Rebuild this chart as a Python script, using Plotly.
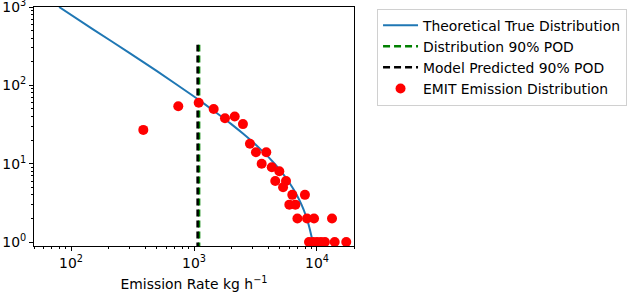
import plotly.graph_objects as go

# Theoretical true distribution
true_x = [80, 150, 300, 500, 1000, 1500, 2000, 2500, 3000, 3500, 4000, 4500,
          5000, 5500, 6000, 6500, 7000, 7500, 8000, 8500, 9000, 9200, 9350]
true_y = [1000, 523, 258, 152, 72, 45.4, 32.2, 24.2, 18.9, 15.1, 12.3, 10.05,
          8.28, 6.83, 5.63, 4.61, 3.73, 2.97, 2.31, 1.72, 1.20, 1.01, 0.87]

# 90% POD vertical lines
pod_dist_x = 1100
pod_model_x = 1070
pod_y = [0.8, 330]

# EMIT emission distribution (scatter)
emit_x = [387, 745, 1092, 1445, 1786, 2143, 2500, 2850, 3190, 3550, 3870, 4290,
          4580, 4940, 5300, 5600, 5960, 6300, 6670, 6930, 7980, 8300, 9460, 13250,
          8610, 9290, 10000, 10770, 11600, 13930, 17300]
emit_y = [27, 54, 60, 50, 38, 40, 32, 18, 14, 10, 14, 9,
          6, 8, 5, 6, 3, 4, 3, 2, 4, 2, 2, 2,
          1, 1, 1, 1, 1, 1, 1]

x_major = [100, 1000, 10000]
x_major_text = ["10<sup>2</sup>", "10<sup>3</sup>", "10<sup>4</sup>"]
y_major = [1, 10, 100, 1000]
y_major_text = ["10<sup>0</sup>", "10<sup>1</sup>", "10<sup>2</sup>", "10<sup>3</sup>"]

x_minor = [m * 10 ** e for e in (1, 2, 3, 4) for m in range(2, 10) if 50 <= m * 10 ** e <= 20000]
y_minor = [m * 10 ** e for e in (0, 1, 2) for m in range(2, 10)]

FONT = "DejaVu Sans"
FS = 13.9

fig = go.Figure()
fig.add_trace(go.Scatter(x=true_x, y=true_y, mode="lines", name="Theoretical True Distribution",
                         line=dict(color="#1f77b4", width=2, shape="spline", smoothing=0.5)))
fig.add_trace(go.Scatter(x=[pod_dist_x, pod_dist_x], y=pod_y, mode="lines", name="Distribution 90% POD",
                         line=dict(color="#008000", width=2.5, dash="7px,4px")))
fig.add_trace(go.Scatter(x=[pod_model_x, pod_model_x], y=pod_y, mode="lines", name="Model Predicted 90% POD",
                         line=dict(color="black", width=2.5, dash="7px,4px")))
fig.add_trace(go.Scatter(x=emit_x, y=emit_y, mode="markers", name="EMIT Emission Distribution",
                         marker=dict(color="#ff0000", size=10, line=dict(width=0))))

axis_common = dict(type="log", showgrid=False, zeroline=False, showline=True, mirror=True,
                   linecolor="black", linewidth=1, ticks="outside", ticklen=4, tickwidth=1,
                   tickcolor="black", automargin=False, ticklabeloverflow="allow",
                   tickfont=dict(family=FONT, size=FS, color="black"))

fig.update_xaxes(**axis_common, range=[1.699, 4.301], tickmode="array", tickvals=x_major,
                 ticktext=x_major_text,
                 minor=dict(tickmode="array", tickvals=x_minor, ticks="outside", ticklen=2,
                            tickwidth=0.8, tickcolor="black"),
                 title=dict(text="Emission Rate kg h<sup>\u22121</sup>",
                            font=dict(family=FONT, size=FS, color="black")))
fig.update_yaxes(**axis_common, range=[-0.051, 3], tickmode="array", tickvals=y_major,
                 ticktext=y_major_text,
                 minor=dict(tickmode="array", tickvals=y_minor, ticks="outside", ticklen=2,
                            tickwidth=0.8, tickcolor="black"))

fig.update_layout(
    width=632, height=292,
    margin=dict(l=34, r=278, t=7, b=46, autoexpand=False),
    paper_bgcolor="white", plot_bgcolor="white",
    font=dict(family=FONT, size=FS, color="black"),
    showlegend=True,
    legend=dict(x=1.072, y=0.993, xanchor="left", yanchor="top", itemwidth=35,
                bordercolor="#d0d0d0", borderwidth=1, bgcolor="white",
                font=dict(family=FONT, size=FS, color="black")),
)

fig.write_html("out.html", config={"displayModeBar": False},
               post_script="document.body.style.margin='0';document.body.style.overflow='hidden';")
